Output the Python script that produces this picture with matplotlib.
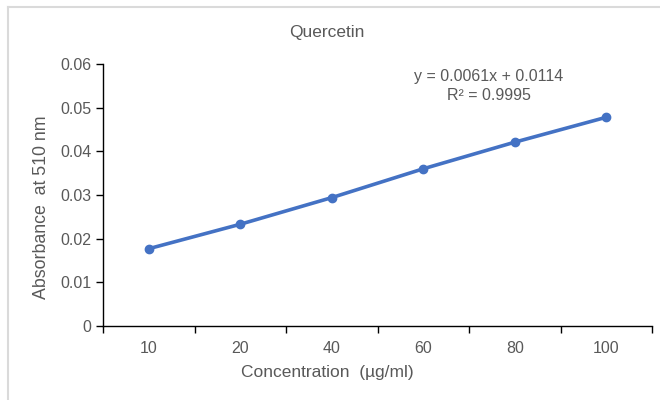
import matplotlib
matplotlib.use("Agg")
import matplotlib.pyplot as plt
from matplotlib.lines import Line2D
import numpy as np

categories = ["10", "20", "40", "60", "80", "100"]
absorbance = [0.0177, 0.0233, 0.0294, 0.0360, 0.0421, 0.0478]
y_ticks = [0, 0.01, 0.02, 0.03, 0.04, 0.05, 0.06]
y_tick_labels = ["0", "0.01", "0.02", "0.03", "0.04", "0.05", "0.06"]

plt.rcParams['font.family'] = ['Liberation Sans', 'DejaVu Sans']
text_color = "#595959"
line_color = "#4472C4"

W, H = 660, 400
fig = plt.figure(figsize=(6.6, 4.0), dpi=100)
border = "#DADADA"
fig.lines.append(Line2D([7.5/W, 1.0], [1-6.5/H, 1-6.5/H], transform=fig.transFigure,
                        color=border, linewidth=1.5))
fig.lines.append(Line2D([7.5/W, 7.5/W], [0.0, 1-6.5/H], transform=fig.transFigure,
                        color=border, linewidth=1.5))

ax_l, ax_r, ax_t, ax_b = 103, 652, 64, 326
ax = fig.add_axes([ax_l/W, 1-ax_b/H, (ax_r-ax_l)/W, (ax_b-ax_t)/H])
x = np.arange(1, len(categories) + 1)
ax.plot(x, absorbance, color=line_color, linewidth=2.6, marker="o", markersize=6,
        markerfacecolor=line_color, markeredgecolor=line_color, solid_capstyle="round")

ax.set_xlim(0.5, len(categories) + 0.5)
ax.set_ylim(0, 0.06)
ax.set_yticks(y_ticks)
ax.set_yticklabels(y_tick_labels)
ax.set_xticks(x)
ax.set_xticklabels(categories)
ax.set_xticks(np.arange(0.5, len(categories) + 1.0, 1.0), minor=True)
ax.tick_params(axis="x", which="major", length=0, pad=11, labelsize=11.5, labelcolor=text_color)
ax.tick_params(axis="x", which="minor", length=5, width=1, color="black", direction="out")
ax.tick_params(axis="y", which="major", length=5, width=1, color="black", direction="out",
               pad=3.5, labelsize=11.5, labelcolor=text_color)

for side in ["top", "right"]:
    ax.spines[side].set_visible(False)
for side in ["left", "bottom"]:
    ax.spines[side].set_color("black")
    ax.spines[side].set_linewidth(1.0)

ax.set_xlabel("Concentration  (µg/ml)", fontsize=12.5, color=text_color, va="center")
ax.xaxis.set_label_coords((327-ax_l)/(ax_r-ax_l), -(373-ax_b)/(ax_b-ax_t))
ax.set_ylabel("Absorbance  at 510 nm", fontsize=12.8, color=text_color, va="center")
ax.yaxis.set_label_coords(-(ax_l-42)/(ax_r-ax_l), (ax_b-207)/(ax_b-ax_t))

fig.text(327/W, 1-32/H, "Quercetin", ha="center", va="center", fontsize=12.5, color=text_color)
fig.text(489/W, 1-77/H, "y = 0.0061x + 0.0114", ha="center", va="center", fontsize=11.5, color=text_color)
fig.text(489/W, 1-96/H, "R² = 0.9995", ha="center", va="center", fontsize=11.5, color=text_color)

fig.savefig("out.png", dpi=100, facecolor="white")
